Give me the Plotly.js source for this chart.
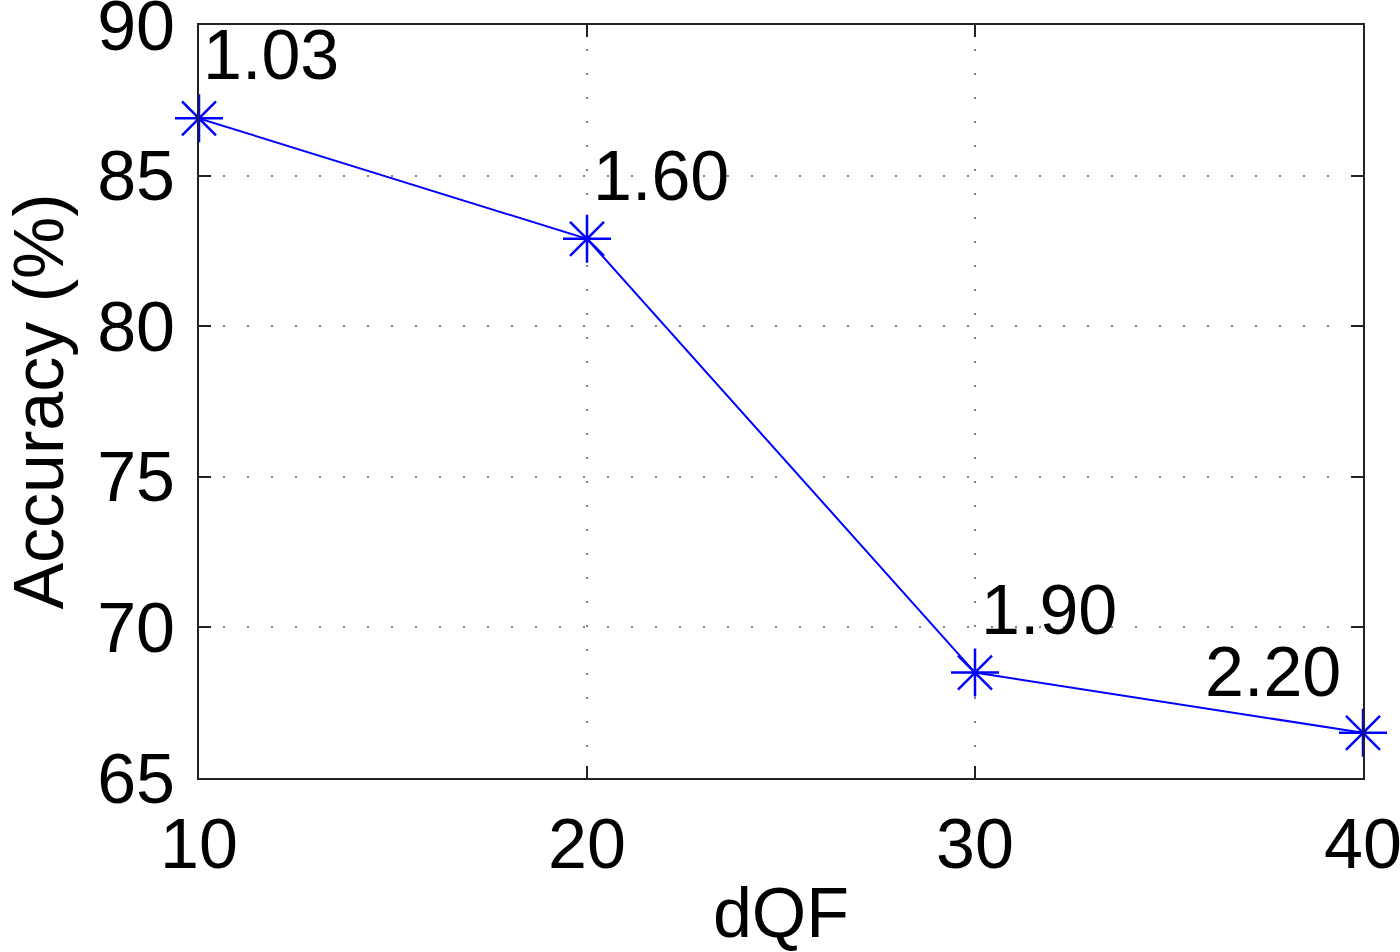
<!DOCTYPE html>
<html>
<head>
<meta charset="utf-8">
<script src="https://cdn.plot.ly/plotly-3.0.1.min.js"></script>
<style>
  html, body { margin: 0; padding: 0; background: #fff; }
  #plot { width: 1400px; height: 952px; }
</style>
</head>
<body>
<div id="plot"></div>
<script>
// values
const dqf = [10, 20, 30, 40];
const accuracy = [86.9, 82.9, 68.5, 66.5];
const pointLabels = ["1.03", "1.60", "1.90", "2.20"];

const fontFam = "Liberation Sans, Arial, Helvetica, sans-serif";

const trace = {
  x: dqf,
  y: accuracy,
  mode: "lines+markers",
  line: { color: "#0000ff", width: 2 },
  marker: { symbol: "asterisk-open", size: 40, color: "#0000ff", line: { color: "#0000ff", width: 2.5 } },
  cliponaxis: false,
  hoverinfo: "none"
};

// label offsets (pixels) so text sits above/right of each point, like the original
const shifts = [
  { xanchor: "left", xshift: 2, yshift: 22 },
  { xanchor: "left", xshift: 4, yshift: 22 },
  { xanchor: "left", xshift: 4, yshift: 22 },
  { xanchor: "right", xshift: -20, yshift: 20 }
];

const annotations = dqf.map((x, i) => ({
  x: x,
  y: accuracy[i],
  text: pointLabels[i],
  showarrow: false,
  xanchor: shifts[i].xanchor,
  yanchor: "bottom",
  xshift: shifts[i].xshift,
  yshift: shifts[i].yshift,
  font: { family: fontFam, size: 70, color: "#000" }
}));

const axisCommon = {
  showline: true,
  linecolor: "#222",
  linewidth: 2,
  mirror: "ticks",
  ticks: "inside",
  ticklen: 12,
  tickwidth: 2,
  tickcolor: "#222",
  showgrid: true,
  gridcolor: "#808080",
  gridwidth: 2,
  griddash: "2px,22px",
  zeroline: false,
  ticklabeloverflow: "allow",
  tickfont: { family: fontFam, size: 70, color: "#000" }
};

const layout = {
  width: 1400,
  height: 952,
  margin: { l: 199, r: 37, t: 25, b: 174 },
  paper_bgcolor: "#fff",
  plot_bgcolor: "#fff",
  showlegend: false,
  xaxis: Object.assign({}, axisCommon, {
    range: [10, 40],
    tickvals: [10, 20, 30, 40],
    ticklabelstandoff: 4,
    title: { text: "dQF", font: { family: fontFam, size: 70, color: "#000" }, standoff: 6 }
  }),
  yaxis: Object.assign({}, axisCommon, {
    range: [65, 90],
    tickvals: [65, 70, 75, 80, 85, 90],
    ticklabelstandoff: 8,
    title: { text: "Accuracy (%)", font: { family: fontFam, size: 70, color: "#000" }, standoff: 22 }
  }),
  annotations: annotations
};

Plotly.newPlot("plot", [trace], layout, { displayModeBar: false, staticPlot: true });
</script>
</body>
</html>
